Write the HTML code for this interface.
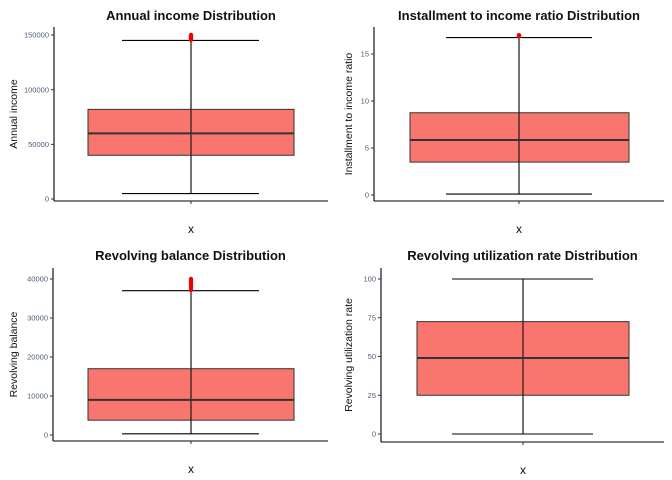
<!DOCTYPE html>
<html><head><meta charset="utf-8"><style>
body{margin:0;background:#fff;}
svg{display:block;font-family:"Liberation Sans",Arial,sans-serif;}
</style></head><body>
<svg id="c" width="672" height="480"></svg>
<script>
const panelTitles=["Annual income Distribution","Installment to income ratio Distribution","Revolving balance Distribution","Revolving utilization rate Distribution"];
const yAxisTitles=["Annual income","Installment to income ratio","Revolving balance","Revolving utilization rate"];
const lowerWhisker=[5000,0.1,300,0];
const q1Values=[40000,3.5,3800,25];
const medianValues=[60000,5.85,9000,49];
const q3Values=[82000,8.75,17000,72.5];
const upperWhisker=[145000,16.75,37000,100];
const outlierValues=[[145500,146500,147500,148500,149500,150000],[16.9,17.0],[37200,37800,38400,39000,39500,40000],[]];
const tickValues=[[0,50000,100000,150000],[0,5,10,15],[0,10000,20000,30000,40000],[0,25,50,75,100]];
const yDomains=[[0,150000],[0,15],[0,40000],[0,100]];
// layout (pixels)
const L=[
 {ax:54,ay:201,x1:328,top:27,y0:199,y1:35,bx0:88,bx1:294,cx:191,c0:122,c1:259,ty:15,yt:17},
 {ax:374,ay:201,x1:664,top:27,y0:195,y1:54,bx0:410,bx1:629,cx:519,c0:446,c1:592,ty:15,yt:352},
 {ax:53,ay:441,x1:328,top:268,y0:435,y1:279,bx0:88,bx1:294,cx:191,c0:122,c1:259,ty:255,yt:17},
 {ax:381,ay:442,x1:664,top:268,y0:434,y1:279,bx0:417,bx1:629,cx:523,c0:452,c1:593,ty:255,yt:352}
];
const NS="http://www.w3.org/2000/svg",svg=document.getElementById("c");
function mk(t,a,p,txt){const e=document.createElementNS(NS,t);for(const k in a)e.setAttribute(k,a[k]);if(txt!==undefined)e.textContent=txt;(p||svg).appendChild(e);return e;}
for(let i=0;i<4;i++){
 const l=L[i],d=yDomains[i];
 const y=v=>l.y0+(v-d[0])/(d[1]-d[0])*(l.y1-l.y0);
 const g=mk("g",{});
 
 
 const t=mk("text",{x:(l.ax+l.x1)/2,y:l.ty+5,"text-anchor":"middle","font-size":"13","font-weight":"bold",fill:"#111"},g,panelTitles[i]);
 
 
 const yt=mk("text",{x:0,y:0,transform:`translate(${l.yt},${(l.top+l.ay)/2}) rotate(-90)`,"text-anchor":"middle","font-size":"10.5",fill:"#111"},g,yAxisTitles[i]);
 
 
 const xt=mk("text",{x:l.cx,y:l.ay+32,"text-anchor":"middle","font-size":"12",fill:"#111"},g,"x");
 
 
 mk("line",{x1:l.ax,y1:l.top,x2:l.ax,y2:l.ay,stroke:"#000","stroke-width":1.1},g);
 mk("line",{x1:l.ax,y1:l.ay,x2:l.x1,y2:l.ay,stroke:"#000","stroke-width":1.1},g);
 mk("line",{x1:l.cx,y1:l.ay,x2:l.cx,y2:l.ay+3,stroke:"#333"},g);
 tickValues[i].forEach(v=>{
  const yy=y(v);
  mk("line",{x1:l.ax-3,y1:yy,x2:l.ax,y2:yy,stroke:"#333"},g);
  const tl=mk("text",{x:l.ax-5,y:yy+2.7,"text-anchor":"end","font-size":"7.5",fill:"#4d5a7a"},g,String(v));
  
  
 });
 mk("line",{x1:l.cx,y1:y(upperWhisker[i]),x2:l.cx,y2:y(lowerWhisker[i]),stroke:"#000","stroke-width":1.1},g);
 mk("line",{x1:l.c0,y1:y(upperWhisker[i]),x2:l.c1,y2:y(upperWhisker[i]),stroke:"#000","stroke-width":1.1},g);
 mk("line",{x1:l.c0,y1:y(lowerWhisker[i]),x2:l.c1,y2:y(lowerWhisker[i]),stroke:"#000","stroke-width":1.1},g);
 const b=mk("rect",{x:l.bx0,y:y(q3Values[i]),width:l.bx1-l.bx0,height:y(q1Values[i])-y(q3Values[i]),fill:"#f8766d",stroke:"#333","stroke-width":1},g);
 
 
 mk("line",{x1:l.cx,y1:y(q3Values[i]),x2:l.cx,y2:y(q1Values[i]),stroke:"#000","stroke-width":1},g);
 const m=mk("line",{x1:l.bx0,y1:y(medianValues[i]),x2:l.bx1,y2:y(medianValues[i]),stroke:"#333","stroke-width":2},g);
 
 
 outlierValues[i].forEach(v=>{
  const p=mk("circle",{cx:l.cx,cy:y(v),r:2.2,fill:"#e00"},g);
  
  
 });
}
</script>
</body></html>
